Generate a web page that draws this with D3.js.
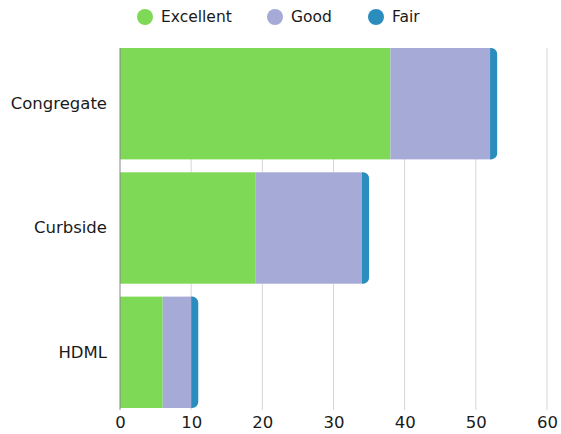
<!DOCTYPE html>
<html>
<head>
<meta charset="utf-8">
<script src="https://cdn.jsdelivr.net/npm/d3@7"></script>
<style>
  body { margin: 0; background: #fff; }
  text { font-family: "DejaVu Sans", sans-serif; fill: #1a1a1a; }
</style>
</head>
<body>
<script>
const categories = ["Congregate", "Curbside", "HDML"]
const seriesNames = ["Excellent", "Good", "Fair"]
const excellent = [38, 19, 6]
const good = [14, 15, 4]
const fair = [1, 1, 1]
const xTicks = [0, 10, 20, 30, 40, 50, 60]
const colors = ["#7ed957", "#a5aad6", "#2b8cbe"]

const W = 561, H = 434
const mLeft = 120, mRight = 547, mTop = 48, mBottom = 408

const svg = d3.select("body").append("svg")
    .attr("width", W)
    .attr("height", H)

const rows = categories.map((c, i) => ({ cat: c, Excellent: excellent[i], Good: good[i], Fair: fair[i] }))
const stacked = d3.stack().keys(seriesNames)(rows)

const x = d3.scaleLinear().domain([0, 60]).range([mLeft, mRight])
const y = d3.scaleBand().domain(categories).range([mTop, mBottom]).paddingInner(0.104).paddingOuter(0)
const color = d3.scaleOrdinal().domain(seriesNames).range(colors)

// gridlines
svg.append("g")
    .selectAll("line")
    .data(xTicks.slice(1))
    .enter()
    .append("line")
    .attr("x1", d => x(d))
    .attr("x2", d => x(d))
    .attr("y1", mTop)
    .attr("y2", mBottom + 2)
    .attr("stroke", "#d6d6d6")
    .attr("stroke-width", 1)

// bars
const r = 6
stacked.forEach((s, si) => {
    const g = svg.append("g").attr("fill", color(s.key))
    s.forEach((d, i) => {
        const x0 = x(d[0]), x1 = x(d[1])
        const yy = y(categories[i]), h = y.bandwidth()
        if (si === stacked.length - 1) {
            const p = d3.path()
            p.moveTo(x0, yy)
            p.lineTo(x1 - r, yy)
            p.arcTo(x1, yy, x1, yy + r, r)
            p.lineTo(x1, yy + h - r)
            p.arcTo(x1, yy + h, x1 - r, yy + h, r)
            p.lineTo(x0, yy + h)
            p.closePath()
            g.append("path").attr("d", p.toString())
        } else {
            g.append("rect")
                .attr("x", x0)
                .attr("y", yy)
                .attr("width", x1 - x0)
                .attr("height", h)
        }
    })
})

// left axis line
svg.append("line")
    .attr("x1", mLeft).attr("x2", mLeft)
    .attr("y1", mTop).attr("y2", mBottom + 2)
    .attr("stroke", "#888")

// x axis
const xAxis = d3.axisBottom(x).tickValues(xTicks).tickSize(0).tickPadding(6)
const gx = svg.append("g")
    .attr("transform", "translate(0," + (mBottom + 2) + ")")
    .call(xAxis)
gx.select(".domain").remove()
gx.selectAll("text").style("font-size", "16.5px").style("font-family", "'DejaVu Sans', sans-serif").attr("fill", "#1a1a1a")

// y axis
const yAxis = d3.axisLeft(y).tickSize(0).tickPadding(13)
const gy = svg.append("g")
    .attr("transform", "translate(" + mLeft + ",0)")
    .call(yAxis)
gy.select(".domain").remove()
gy.selectAll("text").style("font-size", "16.5px").style("font-family", "'DejaVu Sans', sans-serif").attr("fill", "#1a1a1a")

// legend
const legendX = [145, 275, 376]
const legend = svg.append("g")
seriesNames.forEach((n, i) => {
    legend.append("circle")
        .attr("cx", legendX[i])
        .attr("cy", 17)
        .attr("r", 8)
        .attr("fill", colors[i])
    legend.append("text")
        .attr("x", legendX[i] + 16)
        .attr("y", 17)
        .attr("dy", "0.35em")
        .style("font-size", "15.5px")
        .text(n)
})
</script>
</body>
</html>
